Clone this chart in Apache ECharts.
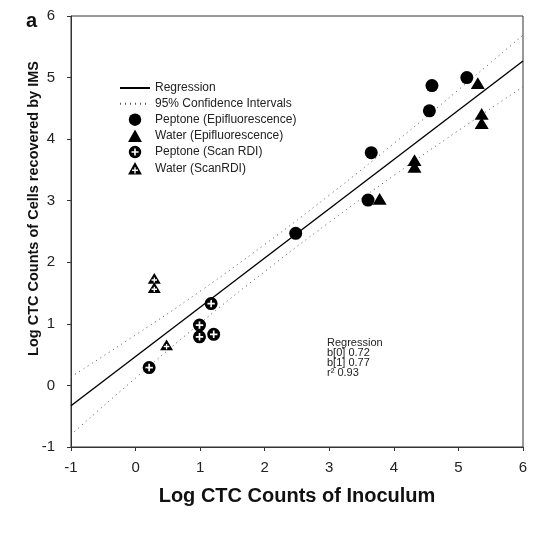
<!DOCTYPE html>
<html>
<head>
<meta charset="utf-8">
<script src="https://cdn.jsdelivr.net/npm/echarts@6/dist/echarts.min.js"></script>
<style>
  html, body { margin: 0; padding: 0; background: #fff; }
  #chart { width: 540px; height: 537px; }
</style>
</head>
<body>
<div id="chart"></div>
<script>
// Log CTC counts: [inoculum, recovered by IMS]
const peptoneEpi  = [[2.48, 2.47], [3.60, 3.01], [3.65, 3.78], [4.55, 4.46], [4.59, 4.87], [5.13, 5.00]];
const waterEpi    = [[3.78, 3.03], [4.32, 3.66], [4.32, 3.55], [5.30, 4.91], [5.36, 4.41], [5.36, 4.26]];
const peptoneScan = [[0.21, 0.29], [0.99, 0.98], [0.99, 0.79], [1.21, 0.83], [1.17, 1.33]];
const waterScan   = [[0.29, 1.74], [0.29, 1.59], [0.48, 0.66]];

// Fitted line and its 95% confidence band
const regressionLine = [[-1, -0.33], [6, 5.27]];
const ciX     = [-1, 0, 1, 2, 3, 4, 5, 6];
const ciUpper = [0.14, 0.82, 1.53, 2.29, 3.09, 3.93, 4.80, 5.69];
const ciLower = [-0.80, 0.12, 1.01, 1.85, 2.65, 3.41, 4.14, 4.85];

const fitStats = ['Regression', 'b[0] 0.72', 'b[1] 0.77', 'r\u00B2 0.93'];

const legendNames = [
  'Regression',
  '95% Confidence Intervals',
  'Peptone (Epifluorescence)',
  'Water (Epifluorescence)',
  'Peptone (Scan RDI)',
  'Water (ScanRDI)'
];

const FONT = '"Liberation Sans", Arial, sans-serif';
const INK = '#000';
const NONE = 'rgba(0,0,0,0)';

// Solid markers with a white cross punched out (inner contour wound the other way)
const circlePlus = 'path://M10,0A10,10,0,1,1,10,20A10,10,0,1,1,10,0Z' +
  'M8.7,4.3L8.7,8.7L4.3,8.7L4.3,11.3L8.7,11.3L8.7,15.7L11.3,15.7L11.3,11.3L15.7,11.3L15.7,8.7L11.3,8.7L11.3,4.3Z';
const trianglePlus = 'path://M10,0L20,18L0,18Z' +
  'M9,7.5L9,10.8L5.8,10.8L5.8,13L9,13L9,16.5L11,16.5L11,13L14.2,13L14.2,10.8L11,10.8L11,7.5Z';
const triangleSolid = 'path://M10,0L20,18L0,18Z';

const pairs = (xs, ys) => xs.map((x, i) => [x, ys[i]]);

const axisCommon = {
  type: 'value',
  min: -1,
  max: 6,
  interval: 1,
  nameLocation: 'middle',
  nameMoveOverlap: false,
  axisLine: { show: true, onZero: false, lineStyle: { color: '#333', width: 1 } },
  axisTick: { show: true, inside: false, length: 4, lineStyle: { color: '#333' } },
  splitLine: { show: false }
};

const markerStyle = { color: INK, opacity: 1 };

const chart = echarts.init(document.getElementById('chart'), null, { renderer: 'canvas' });

chart.setOption({
  animation: false,
  backgroundColor: '#fff',
  title: {
    text: 'a',
    left: 21,
    top: 6,
    textStyle: { fontFamily: FONT, fontWeight: 'bold', fontSize: 20, color: '#111' }
  },
  grid: {
    left: 71, right: 17, top: 16, bottom: 90,
    show: true, borderColor: '#333', borderWidth: 1
  },
  legend: {
    orient: 'vertical',
    left: 119,
    top: 82,
    padding: 0,
    itemWidth: 30,
    itemHeight: 12.5,
    itemGap: 3.7,
    textStyle: { fontFamily: FONT, fontSize: 12, color: '#222' },
    data: legendNames
  },
  xAxis: Object.assign({}, axisCommon, {
    name: 'Log CTC Counts of Inoculum',
    nameGap: 39,
    nameTextStyle: { fontFamily: FONT, fontWeight: 'bold', fontSize: 20, color: '#111' },
    axisLabel: { margin: 13, fontFamily: FONT, fontSize: 15, color: '#222' }
  }),
  yAxis: Object.assign({}, axisCommon, {
    name: 'Log CTC Counts of Cells recovered by IMS',
    nameGap: 30,
    nameTextStyle: {
      fontFamily: FONT, fontWeight: 'bold', fontSize: 14.5, color: '#111',
      padding: [0, 0, 0, 46]
    },
    axisLabel: { margin: 16, fontFamily: FONT, fontSize: 15, color: '#222' }
  }),
  graphic: [{
    type: 'text',
    left: 327,
    top: 337,
    style: {
      text: fitStats.join('\n'),
      font: '11px ' + FONT,
      fill: '#222',
      lineHeight: 10
    }
  }],
  series: [
    {
      name: legendNames[0], type: 'line', data: regressionLine,
      symbol: 'none', itemStyle: { color: NONE },
      lineStyle: { color: INK, width: 1.4 }, z: 3
    },
    {
      name: legendNames[1], type: 'line', data: pairs(ciX, ciUpper), smooth: true,
      symbol: 'none', itemStyle: { color: NONE },
      lineStyle: { color: '#555', width: 1, type: [1, 4] }, z: 2
    },
    {
      name: legendNames[1], type: 'line', data: pairs(ciX, ciLower), smooth: true,
      symbol: 'none', itemStyle: { color: NONE },
      lineStyle: { color: '#555', width: 1, type: [1, 4] }, z: 2
    },
    {
      name: legendNames[2], type: 'scatter', data: peptoneEpi,
      symbol: 'circle', symbolSize: 13, itemStyle: markerStyle, z: 4
    },
    {
      name: legendNames[3], type: 'scatter', data: waterEpi,
      symbol: triangleSolid, symbolSize: [14, 13], symbolKeepAspect: true,
      itemStyle: markerStyle, z: 4
    },
    {
      name: legendNames[4], type: 'scatter', data: peptoneScan,
      symbol: circlePlus, symbolSize: 13, symbolKeepAspect: true,
      itemStyle: markerStyle, z: 4
    },
    {
      name: legendNames[5], type: 'scatter', data: waterScan,
      symbol: trianglePlus, symbolSize: [13, 12], symbolKeepAspect: true,
      itemStyle: markerStyle, z: 4
    }
  ]
});
</script>
</body>
</html>
